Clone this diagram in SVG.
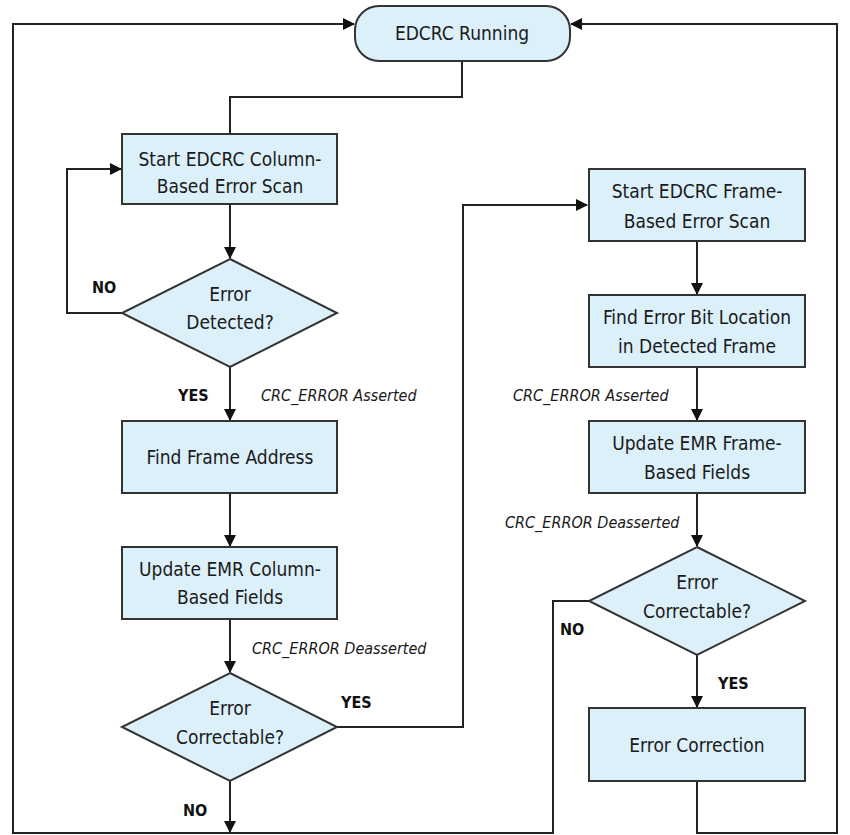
<svg xmlns="http://www.w3.org/2000/svg" width="850" height="835" viewBox="0 0 850 835">
<style>
.n{fill:#dcf0fa;stroke:#333;stroke-width:2}
.c{fill:none;stroke:#222;stroke-width:2}
.t{font-family:"Liberation Sans Narrow","DejaVu Sans Condensed","Liberation Sans",sans-serif;font-size:19px;fill:#1a1a1a;text-anchor:middle;dominant-baseline:central}
.b{font-family:"Liberation Sans Narrow","DejaVu Sans Condensed","Liberation Sans",sans-serif;font-size:16px;font-weight:bold;fill:#111;dominant-baseline:central}
.i{font-family:"Liberation Sans Narrow","DejaVu Sans Condensed","Liberation Sans",sans-serif;font-size:16px;font-style:italic;fill:#1a1a1a;dominant-baseline:central}
</style>
<defs>
<marker id="ah" markerUnits="userSpaceOnUse" markerWidth="12" markerHeight="12" refX="11" refY="6" orient="auto">
<path d="M0,0 L12,6 L0,12 z" fill="#111"/>
</marker>
</defs>
<rect width="850" height="835" fill="#fff"/>
<g id="connectors">
<path class="c" d="M462,61 V97 H230 V134"/>
<path class="c" d="M230,204 V258" marker-end="url(#ah)"/>
<path class="c" d="M122,313 H67 V169 H121" marker-end="url(#ah)"/>
<path class="c" d="M230,367 V420" marker-end="url(#ah)"/>
<path class="c" d="M230,493 V546" marker-end="url(#ah)"/>
<path class="c" d="M230,619 V672" marker-end="url(#ah)"/>
<path class="c" d="M337,727 H463 V205 H587" marker-end="url(#ah)"/>
<path class="c" d="M230,781 V832" marker-end="url(#ah)"/>
<path class="c" d="M697,241 V294" marker-end="url(#ah)"/>
<path class="c" d="M697,367 V420" marker-end="url(#ah)"/>
<path class="c" d="M697,493 V546" marker-end="url(#ah)"/>
<path class="c" d="M589,601 H553 V833 H13 V24 H354" marker-end="url(#ah)"/>
<path class="c" d="M697,655 V707" marker-end="url(#ah)"/>
<path class="c" d="M697,781 V833 H837 V24 H571" marker-end="url(#ah)"/>
<text class="b" x="92" y="287">NO</text>
<text class="b" x="178" y="395">YES</text>
<text class="i" x="261" y="395">CRC_ERROR Asserted</text>
<text class="i" x="252" y="648">CRC_ERROR Deasserted</text>
<text class="b" x="341" y="702">YES</text>
<text class="b" x="183" y="810">NO</text>
<text class="i" x="513" y="395">CRC_ERROR Asserted</text>
<text class="i" x="505" y="522">CRC_ERROR Deasserted</text>
<text class="b" x="560" y="629">NO</text>
<text class="b" x="718" y="683">YES</text>
</g>
<g id="running">
<rect class="n" x="355" y="6" width="215" height="55" rx="24"/>
<text class="t" x="462" y="33">EDCRC Running</text>
</g>
<g id="colscan">
<rect class="n" x="122" y="134" width="215" height="70"/>
<text class="t" x="230" y="159">Start EDCRC Column-</text>
<text class="t" x="230" y="186">Based Error Scan</text>
</g>
<g id="detected">
<polygon class="n" points="230,259 337,313 230,367 122,313"/>
<text class="t" x="230" y="294">Error</text>
<text class="t" x="230" y="322">Detected?</text>
</g>
<g id="findframe">
<rect class="n" x="122" y="421" width="215" height="72"/>
<text class="t" x="230" y="457">Find Frame Address</text>
</g>
<g id="updatecol">
<rect class="n" x="122" y="547" width="215" height="72"/>
<text class="t" x="230" y="569">Update EMR Column-</text>
<text class="t" x="230" y="597">Based Fields</text>
</g>
<g id="correctable1">
<polygon class="n" points="230,673 337,727 230,781 122,727"/>
<text class="t" x="230" y="708">Error</text>
<text class="t" x="230" y="737">Correctable?</text>
</g>
<g id="framescan">
<rect class="n" x="589" y="169" width="216" height="72"/>
<text class="t" x="697" y="191">Start EDCRC Frame-</text>
<text class="t" x="697" y="221">Based Error Scan</text>
</g>
<g id="findbit">
<rect class="n" x="589" y="295" width="216" height="72"/>
<text class="t" x="697" y="317">Find Error Bit Location</text>
<text class="t" x="697" y="346">in Detected Frame</text>
</g>
<g id="updateframe">
<rect class="n" x="589" y="421" width="216" height="72"/>
<text class="t" x="697" y="443">Update EMR Frame-</text>
<text class="t" x="697" y="472">Based Fields</text>
</g>
<g id="correctable2">
<polygon class="n" points="697,547 805,601 697,655 589,601"/>
<text class="t" x="697" y="582">Error</text>
<text class="t" x="697" y="611">Correctable?</text>
</g>
<g id="correction">
<rect class="n" x="589" y="708" width="216" height="73"/>
<text class="t" x="697" y="745">Error Correction</text>
</g>
</svg>
